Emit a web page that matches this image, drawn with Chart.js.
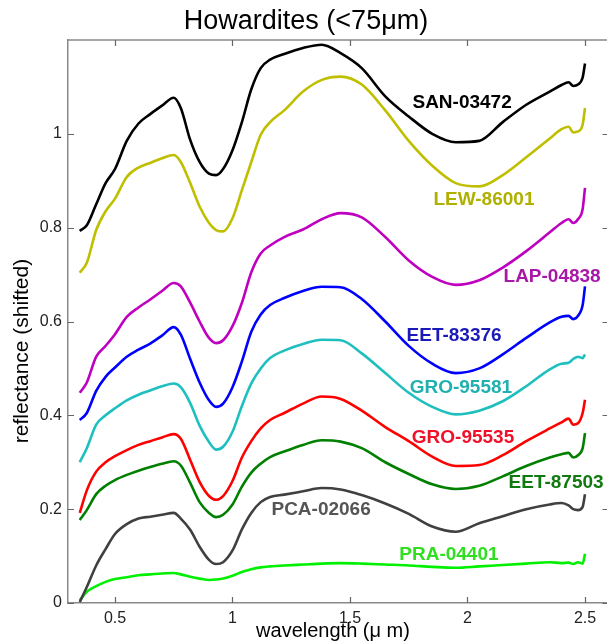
<!DOCTYPE html>
<html>
<head>
<meta charset="utf-8">
<script src="https://cdn.jsdelivr.net/npm/chart.js@4"></script>
<style>
html,body{margin:0;padding:0;background:#fff;overflow:hidden;}
#wrap{width:612px;height:643px;position:relative;}
</style>
</head>
<body>
<div id="wrap"><canvas id="c" width="612" height="643"></canvas></div>
<script>
const wavelength = [0.35,0.38,0.42,0.46,0.50,0.55,0.60,0.65,0.70,0.75,0.78,0.82,0.86,0.90,0.93,0.96,1.00,1.04,1.08,1.12,1.16,1.22,1.30,1.38,1.46,1.55,1.65,1.75,1.85,1.95,2.05,2.15,2.25,2.35,2.40,2.43,2.45,2.47,2.49,2.50];

const SAN_03472 = [0.793,0.805,0.85,0.895,0.925,0.985,1.022,1.042,1.06,1.077,1.055,0.987,0.94,0.915,0.912,0.925,0.965,1.025,1.095,1.14,1.158,1.17,1.183,1.19,1.172,1.14,1.08,1.037,1.0,0.982,0.985,1.025,1.062,1.09,1.104,1.11,1.102,1.105,1.12,1.15];
const LEW_86001 = [0.704,0.725,0.795,0.835,0.862,0.908,0.928,0.938,0.948,0.955,0.94,0.895,0.845,0.81,0.795,0.792,0.82,0.88,0.94,0.998,1.025,1.05,1.09,1.115,1.122,1.105,1.05,0.985,0.932,0.895,0.888,0.912,0.95,0.99,1.01,1.015,1.003,1.005,1.02,1.055];
const LAP_04838 = [0.448,0.47,0.525,0.548,0.573,0.61,0.63,0.647,0.665,0.682,0.675,0.64,0.6,0.565,0.554,0.56,0.59,0.64,0.705,0.745,0.762,0.78,0.796,0.818,0.831,0.822,0.78,0.73,0.695,0.678,0.688,0.715,0.75,0.79,0.81,0.818,0.81,0.818,0.84,0.885];
const EET_83376 = [0.39,0.405,0.452,0.482,0.502,0.525,0.54,0.553,0.57,0.588,0.572,0.52,0.47,0.432,0.418,0.425,0.46,0.515,0.578,0.615,0.635,0.65,0.665,0.674,0.673,0.648,0.6,0.548,0.51,0.49,0.5,0.53,0.565,0.598,0.61,0.612,0.605,0.612,0.635,0.675];
const GRO_95581 = [0.30,0.33,0.38,0.40,0.415,0.432,0.444,0.453,0.462,0.468,0.46,0.426,0.378,0.343,0.327,0.333,0.365,0.42,0.468,0.5,0.522,0.538,0.552,0.561,0.56,0.532,0.49,0.448,0.418,0.402,0.41,0.43,0.462,0.498,0.51,0.512,0.52,0.525,0.522,0.53];
const GRO_95535 = [0.192,0.24,0.28,0.3,0.313,0.326,0.337,0.345,0.353,0.36,0.35,0.305,0.258,0.228,0.22,0.228,0.26,0.31,0.345,0.372,0.39,0.405,0.425,0.44,0.435,0.41,0.375,0.345,0.312,0.292,0.294,0.315,0.345,0.372,0.385,0.393,0.38,0.383,0.405,0.433];
const EET_87503 = [0.177,0.198,0.232,0.25,0.262,0.273,0.282,0.29,0.297,0.302,0.293,0.256,0.215,0.192,0.183,0.188,0.21,0.248,0.278,0.297,0.311,0.323,0.337,0.347,0.344,0.33,0.3,0.275,0.253,0.243,0.25,0.27,0.292,0.31,0.317,0.32,0.31,0.315,0.33,0.362];
const PCA_02066 = [0.002,0.034,0.08,0.115,0.147,0.168,0.18,0.184,0.188,0.192,0.18,0.156,0.12,0.092,0.083,0.087,0.112,0.157,0.192,0.215,0.226,0.231,0.238,0.245,0.242,0.23,0.212,0.19,0.163,0.152,0.17,0.185,0.2,0.21,0.213,0.208,0.2,0.198,0.205,0.232];
const PRA_04401 = [0.006,0.024,0.036,0.045,0.051,0.055,0.059,0.061,0.063,0.064,0.061,0.056,0.052,0.049,0.05,0.052,0.058,0.066,0.072,0.076,0.078,0.08,0.082,0.084,0.085,0.084,0.082,0.08,0.077,0.075,0.078,0.081,0.084,0.087,0.085,0.086,0.083,0.087,0.084,0.105];

const sampleNames = ["SAN-03472","LEW-86001","LAP-04838","EET-83376","GRO-95581","GRO-95535","EET-87503","PCA-02066","PRA-04401"];
const xTicks = [0.5,1,1.5,2,2.5];
const yTicks = [0,0.2,0.4,0.6,0.8,1];
// label anchor points in data units (wavelength, reflectance)
const labelX = [1.977,2.070,2.360,1.943,1.972,1.981,2.377,1.377,1.921];
const labelY = [1.066,0.859,0.695,0.569,0.458,0.352,0.256,0.198,0.102];

const seriesValues = [SAN_03472,LEW_86001,LAP_04838,EET_83376,GRO_95581,GRO_95535,EET_87503,PCA_02066,PRA_04401];
const lineColors = ["#000000","#bfbf00","#bf00bf","#0000ff","#1fbfbf","#ff0000","#007f00","#404040","#00f000"];
const textColors = ["#000000","#b0b000","#a818a8","#1a1ab8","#20b0b0","#f0102a","#107a10","#555555","#30e020"];

const datasets = seriesValues.map((vals,i)=>({
  label: sampleNames[i],
  data: wavelength.map((w,j)=>({x:w,y:vals[j]})),
  borderColor: lineColors[i],
  borderWidth: 2.6,
  pointRadius: 0,
  fill: false,
  cubicInterpolationMode: 'monotone'
}));

const FONT = "'Liberation Sans', Arial, sans-serif";

const decor = {
  id: 'decor',
  afterDatasetsDraw(chart){
    const ctx = chart.ctx, a = chart.chartArea;
    const xs = chart.scales.x, ys = chart.scales.y;
    ctx.save();
    // frame top line
    ctx.strokeStyle = '#888';
    ctx.lineWidth = 1.5;
    ctx.beginPath();
    ctx.moveTo(a.left, a.top); ctx.lineTo(a.right, a.top);
    ctx.stroke();
    // inward ticks
    ctx.strokeStyle = '#666';
    ctx.lineWidth = 1.2;
    const tl = 6;
    ctx.beginPath();
    xTicks.forEach(v=>{
      const px = Math.round(xs.getPixelForValue(v))+0.5;
      ctx.moveTo(px, a.bottom); ctx.lineTo(px, a.bottom-tl);
      ctx.moveTo(px, a.top); ctx.lineTo(px, a.top+tl);
    });
    yTicks.forEach(v=>{
      const py = Math.round(ys.getPixelForValue(v))+0.5;
      ctx.moveTo(a.left, py); ctx.lineTo(a.left+tl, py);
      ctx.moveTo(a.right, py); ctx.lineTo(a.right-tl, py);
    });
    ctx.stroke();
    // sample labels
    ctx.font = "bold 19px " + FONT;
    ctx.textAlign = 'center';
    ctx.textBaseline = 'middle';
    sampleNames.forEach((n,i)=>{
      ctx.fillStyle = textColors[i];
      ctx.fillText(n, xs.getPixelForValue(labelX[i]), ys.getPixelForValue(labelY[i]));
    });
    // titles
    ctx.fillStyle = '#000';
    ctx.font = "27px " + FONT;
    ctx.fillText("Howardites (<75\u03BCm)", 306, 22);
    ctx.font = "20px " + FONT;
    ctx.fillText("wavelength (\u03BC m)", 333, 631);
    ctx.translate(22, 351);
    ctx.rotate(-Math.PI/2);
    ctx.font = "21px " + FONT;
    ctx.fillText("reflectance (shifted)", 0, 0);
    ctx.restore();
  }
};

new Chart(document.getElementById('c'), {
  type: 'line',
  data: { datasets },
  options: {
    responsive: false,
    animation: false,
    layout: { padding: { left: 0, right: 3.5, top: 40, bottom: 0 } },
    plugins: { legend: { display: false }, title: { display: false }, tooltip: { enabled: false } },
    scales: {
      x: {
        type: 'linear', min: 0.3, max: 2.6,
        afterFit: s => { s.height = 40; },
        afterBuildTicks: s => { s.ticks = xTicks.map(v=>({value:v})); },
        grid: { display: true, drawOnChartArea: false, drawTicks: false },
        border: { display: true, color: '#888', width: 1.5 },
        ticks: { padding: 6, color: '#222', font: { family: FONT, size: 16 }, maxRotation: 0,
                 callback: v => String(v) }
      },
      y: {
        type: 'linear', min: 0, max: 1.2,
        afterFit: s => { s.width = 68; },
        afterBuildTicks: s => { s.ticks = yTicks.map(v=>({value:v})); },
        grid: { display: true, drawOnChartArea: false, drawTicks: false },
        border: { display: true, color: '#888', width: 1.5 },
        ticks: { padding: 6, color: '#222', font: { family: FONT, size: 16 },
                 callback: v => String(Math.round(v*10)/10) }
      }
    }
  },
  plugins: [decor]
});
</script>
</body>
</html>
